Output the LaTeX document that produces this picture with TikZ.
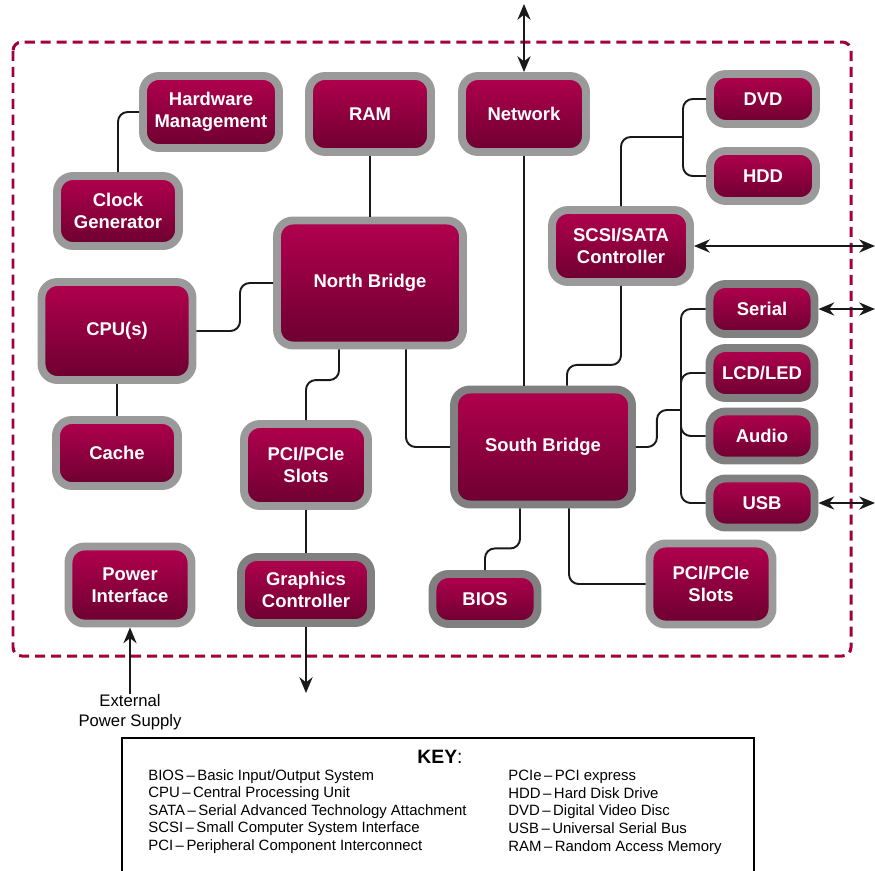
\documentclass[tikz,border=0pt]{standalone}
\usepackage{fontspec}
\setmainfont{Liberation Sans}
\usetikzlibrary{arrows.meta}

\definecolor{boardred}{RGB}{160,0,62}
\definecolor{blktop}{RGB}{178,0,78}
\definecolor{blkbot}{RGB}{108,0,48}
\definecolor{rimlight}{RGB}{154,154,154}
\definecolor{rimdark}{RGB}{128,128,128}

\tikzset{
  blk/.style={draw=rimlight, line width=4.5pt, rounded corners=9pt,
    top color=blktop, bottom color=blkbot, text=white, align=center,
    font=\fontsize{10.5}{12.5}\selectfont\bfseries, inner sep=0pt},
  blkd/.style={blk, draw=rimdark},
  blksize/.style 2 args={minimum width=#1cm, minimum height=#2cm},
  wire/.style={line width=1.1pt, draw=black!90, rounded corners=5.5pt},
  io/.style={wire, <->},
  frame/.style={draw=boardred, line width=1.7pt, dash pattern=on 5.7pt off 3.4pt, rounded corners=5pt},
  keytext/.style={anchor=north west, align=left, inner sep=0pt, font=\fontsize{8.5}{10}\selectfont},
}

\begin{document}
\begin{tikzpicture}[x=0.02cm, y=-0.02cm, >={Stealth[length=9pt,width=7.5pt]}]
    \useasboundingbox (0,0) rectangle (875,870);

    % board outline
    \draw[frame] (13,42) rectangle (851,656);

    % blocks
    \node[blk, blksize={2.72}{1.44}] (hwm) at (211,112) {Hardware\\Management};
    \node[blk, blksize={2.44}{1.40}] (clk) at (118,211) {Clock\\Generator};
    \node[blk, blksize={2.44}{1.52}] (ram) at (370,114) {RAM};
    \node[blk, blksize={2.48}{1.52}] (net) at (524,114) {Network};
    \node[blk, blksize={2.12}{1.00}] (dvd) at (763,99) {DVD};
    \node[blk, blksize={2.12}{1.00}] (hdd) at (763,176) {HDD};
    \node[blk, blksize={2.76}{1.44}] (scsi) at (621,246) {SCSI/SATA\\Controller};
    \node[blk, blksize={3.72}{2.50}] (nb) at (370,283) {North Bridge};
    \node[blk, blksize={3.02}{1.96}] (cpu) at (117,331) {CPU(s)};
    \node[blk, blksize={2.44}{1.32}] (cache) at (117,453) {Cache};
    \node[blkd, blksize={2.10}{1.00}] (ser) at (762,309) {Serial};
    \node[blkd, blksize={2.10}{1.00}] (lcd) at (762,373) {LCD/LED};
    \node[blkd, blksize={2.10}{0.98}] (aud) at (762,436) {Audio};
    \node[blkd, blksize={2.10}{0.98}] (usb) at (762,503) {USB};
    \node[blkd, blksize={3.56}{2.30}] (sb) at (543,447) {South Bridge};
    \node[blk, blksize={2.48}{1.64}] (pcil) at (306,465) {PCI/PCIe\\Slots};
    \node[blk, blksize={2.46}{1.54}] (pwr) at (130,585) {Power\\Interface};
    \node[blkd, blksize={2.60}{1.32}] (gfx) at (306,590) {Graphics\\Controller};
    \node[blkd, blksize={2.10}{1.00}] (bios) at (485,599) {BIOS};
    \node[blk, blksize={2.46}{1.62}] (pcir) at (711,584) {PCI/PCIe\\Slots};

    % outside ends
    \coordinate (netout) at (524,4);
    \coordinate (scsiout) at (875,246);
    \coordinate (serout) at (875,309);
    \coordinate (usbout) at (875,503);
    \coordinate (gfxout) at (306,693);
    \coordinate (stor) at (683,137);
    \coordinate (bus) at (681,410);
    \node[font=\fontsize{9.5}{11.4}\selectfont, align=center, inner sep=0pt] (ext) at (130,712) {External\\Power Supply};

    % connectors
    \draw[wire] (hwm.west) -| (clk.north);
    \draw[wire] (ram.south) -- (nb.north);
    \draw[wire] (cpu.east) -- (240,331) |- (nb.west);
    \draw[wire] (cpu.south) -- (cache.north);
    \draw[wire] ([xshift=-0.62cm]nb.south) |- ([yshift=0.8cm]pcil.north) -- (pcil.north);
    \draw[wire] ([xshift=0.72cm]nb.south) |- (sb.west);
    \draw[wire] (net.south) -- (net.south |- sb.north);
    \draw[wire] (scsi.south) -- ++(0,79) -| ([xshift=0.48cm]sb.north);
    \draw[wire] (scsi.north) |- (stor);
    \draw[wire] (dvd.west) -| (stor) |- (hdd.west);
    \draw[wire] (sb.east) -- ++(21,0) |- (bus);
    \draw[wire] (ser.west) -| (bus) |- (usb.west);
    \draw[wire] (lcd.west) -| (bus) |- (aud.west);
    \draw[wire] ([xshift=-0.46cm]sb.south) -- ++(0,40) -| (bios.north);
    \draw[wire] ([xshift=0.52cm]sb.south) |- (pcir.west);
    \draw[wire] (pcil.south) -- (gfx.north);

    % arrows leaving the board
    \draw[io] (netout) -- (net.north);
    \draw[io] (scsi.east) -- (scsiout);
    \draw[io] (ser.east) -- (serout);
    \draw[io] (usb.east) -- (usbout);
    \draw[wire, ->] (gfx.south) -- (gfxout);
    \draw[wire, ->] (ext.north) -- (pwr.south);

    % key
    \draw[line width=0.8pt] (122,738) rectangle (754,890);
    \node[font=\fontsize{11}{13}\selectfont] (keyhead) at (440,757) {\textbf{KEY}:};
    \node[keytext] (keyleft) at (148,769) {BIOS\,--\,Basic Input/Output System\\
      CPU\,--\,Central Processing Unit\\
      SATA\,--\,Serial Advanced Technology Attachment\\
      SCSI\,--\,Small Computer System Interface\\
      PCI\,--\,Peripheral Component Interconnect};
    \node[keytext] (keyright) at (508,770) {PCIe\,--\,PCI express\\
      HDD\,--\,Hard Disk Drive\\
      DVD\,--\,Digital Video Disc\\
      USB\,--\,Universal Serial Bus\\
      RAM\,--\,Random Access Memory};
\end{tikzpicture}
\end{document}
